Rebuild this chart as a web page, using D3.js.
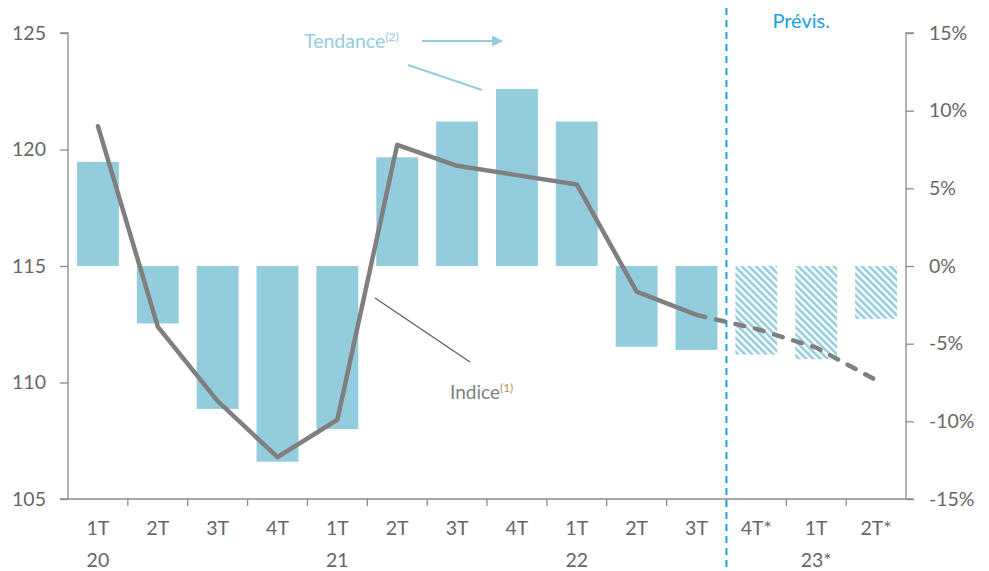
<!DOCTYPE html>
<html><head><meta charset="utf-8">
<script src="https://cdn.jsdelivr.net/npm/d3@7"></script>
<style>html,body{margin:0;padding:0;background:#fff;} svg{display:block;font-family:Lato,"Open Sans",sans-serif;}</style>
</head><body>
<svg id="c" width="989" height="571"></svg>
<script>
const quarters = ["1T","2T","3T","4T","1T","2T","3T","4T","1T","2T","3T","4T*","1T","2T*"];
const years    = ["20","","","","21","","","","22","","","","23*",""];
const growth   = [6.7,-3.7,-9.2,-12.6,-10.5,7.0,9.3,11.4,9.3,-5.2,-5.4,-5.7,-6.0,-3.4];
const indexVals= [121.0,112.4,109.2,106.8,108.4,120.2,119.3,118.9,118.5,113.9,112.9,112.3,111.5,110.1];
const forecastStart = 11;
const leftTicks = [105,110,115,120,125];
const rightTicks = [-15,-10,-5,0,5,10,15];

const svg = d3.select("#c");
const W=989,H=571, L=68, R=906, T=33, B=499;
const grey="#8c8c8c", txt="#666", barC="#93cddd", blue="#1ba1e2";

const x = d3.scaleBand().domain(d3.range(quarters.length)).range([L,R]).paddingInner(0.3).paddingOuter(0.15);
const yL = d3.scaleLinear().domain([105,125]).range([B,T]);
const yR = d3.scaleLinear().domain([-15,15]).range([B,T]);

const defs = svg.append("defs");
const pat = defs.append("pattern").attr("id","hatch").attr("patternUnits","userSpaceOnUse")
  .attr("width",5).attr("height",5).attr("patternTransform","rotate(-45)");
pat.append("rect").attr("width",5).attr("height",5).attr("fill","#fff");
pat.append("rect").attr("width",2.6).attr("height",5).attr("fill",barC);

// bars
svg.append("g").selectAll("rect").data(growth).join("rect")
  .attr("x",(d,i)=>x(i)).attr("width",x.bandwidth())
  .attr("y",d=>yR(Math.max(0,d))).attr("height",d=>Math.abs(yR(d)-yR(0)))
  .attr("fill",(d,i)=> i>=forecastStart ? "url(#hatch)" : barC);

// axes
const axL = d3.axisLeft(yL).tickValues(leftTicks).tickSize(8).tickPadding(14);
const gL = svg.append("g").attr("transform",`translate(${L},0)`).call(axL);
const axR = d3.axisRight(yR).tickValues(rightTicks).tickSize(8).tickPadding(15).tickFormat(d=>d+"%");
const gR = svg.append("g").attr("transform",`translate(${R},0)`).call(axR);
[gL,gR].forEach(g=>{
  g.select(".domain").attr("stroke",grey).attr("stroke-width",1.3);
  g.selectAll(".tick line").attr("stroke",grey).attr("stroke-width",1.3);
  g.selectAll(".tick text").attr("fill",txt).attr("font-size",19.5).attr("font-family","Lato");
});
gL.select(".domain").attr("d",`M-8,${T}H0V${B}`);
gR.select(".domain").attr("d",`M8,${T}H0V${B}`);

// bottom axis
const gB = svg.append("g");
gB.append("line").attr("x1",L-8).attr("x2",R+8).attr("y1",B).attr("y2",B).attr("stroke",grey).attr("stroke-width",1.3);
const bounds = d3.range(1,quarters.length).map(i=>x(i)-x.step()*x.paddingInner()/2);
gB.selectAll(".bt").data(bounds).join("line").attr("class","bt")
  .attr("x1",d=>d).attr("x2",d=>d).attr("y1",B).attr("y2",B+7).attr("stroke",grey).attr("stroke-width",1.3);
gB.selectAll(".q").data(quarters).join("text").attr("class","q")
  .attr("x",(d,i)=>x(i)+x.bandwidth()/2).attr("y",535).attr("text-anchor","middle")
  .attr("fill",txt).attr("font-size",19.5).text(d=>d);
gB.selectAll(".yr").data(years).join("text").attr("class","yr")
  .attr("x",(d,i)=>x(i)+x.bandwidth()/2).attr("y",567).attr("text-anchor","middle")
  .attr("fill",txt).attr("font-size",19.5).text(d=>d);

// forecast divider
const divX = x(forecastStart)-x.step()*x.paddingInner()/2;
svg.append("line").attr("x1",divX).attr("x2",divX).attr("y1",8).attr("y2",H)
  .attr("stroke",blue).attr("stroke-width",2).attr("stroke-dasharray","7,5");
svg.append("text").attr("x",divX+46).attr("y",28).attr("fill",blue).attr("font-size",20).text("Prévis.");

// line
const pts = indexVals.map((v,i)=>[x(i)+x.bandwidth()/2, yL(v)]);
const lineGen = d3.line();
svg.append("path").attr("d",lineGen(pts.slice(0,forecastStart))).attr("fill","none")
  .attr("stroke","#7f7f7f").attr("stroke-width",4.5).attr("stroke-linejoin","round").attr("stroke-linecap","round");
svg.append("path").attr("d",lineGen(pts.slice(forecastStart-1))).attr("fill","none")
  .attr("stroke","#7f7f7f").attr("stroke-width",4.5).attr("stroke-linecap","round").attr("stroke-dasharray","9,11");

// annotations
const t1 = svg.append("text").attr("x",304).attr("y",48).attr("fill",barC).attr("font-size",19.5);
t1.append("tspan").text("Tendance");
t1.append("tspan").attr("dy",-7).attr("font-size",12).text("(2)");
defs.append("marker").attr("id","arr").attr("viewBox","0 0 10 10").attr("refX",9).attr("refY",5)
  .attr("markerWidth",5).attr("markerHeight",5).attr("orient","auto")
  .append("path").attr("d","M0,0L10,5L0,10Z").attr("fill",barC);
svg.append("line").attr("x1",422).attr("x2",502).attr("y1",41).attr("y2",41)
  .attr("stroke",barC).attr("stroke-width",2.2).attr("marker-end","url(#arr)");
svg.append("line").attr("x1",408).attr("y1",65).attr("x2",482).attr("y2",90).attr("stroke",barC).attr("stroke-width",2);

const t2 = svg.append("text").attr("x",450).attr("y",399).attr("fill","#7f7f7f").attr("font-size",19);
t2.append("tspan").text("Indice");
t2.append("tspan").attr("dy",-7).attr("font-size",12).attr("fill","#a89a5a").text("(1)");
svg.append("line").attr("x1",375).attr("y1",298).attr("x2",470).attr("y2",362).attr("stroke","#666").attr("stroke-width",1.5);
</script>
</body></html>
